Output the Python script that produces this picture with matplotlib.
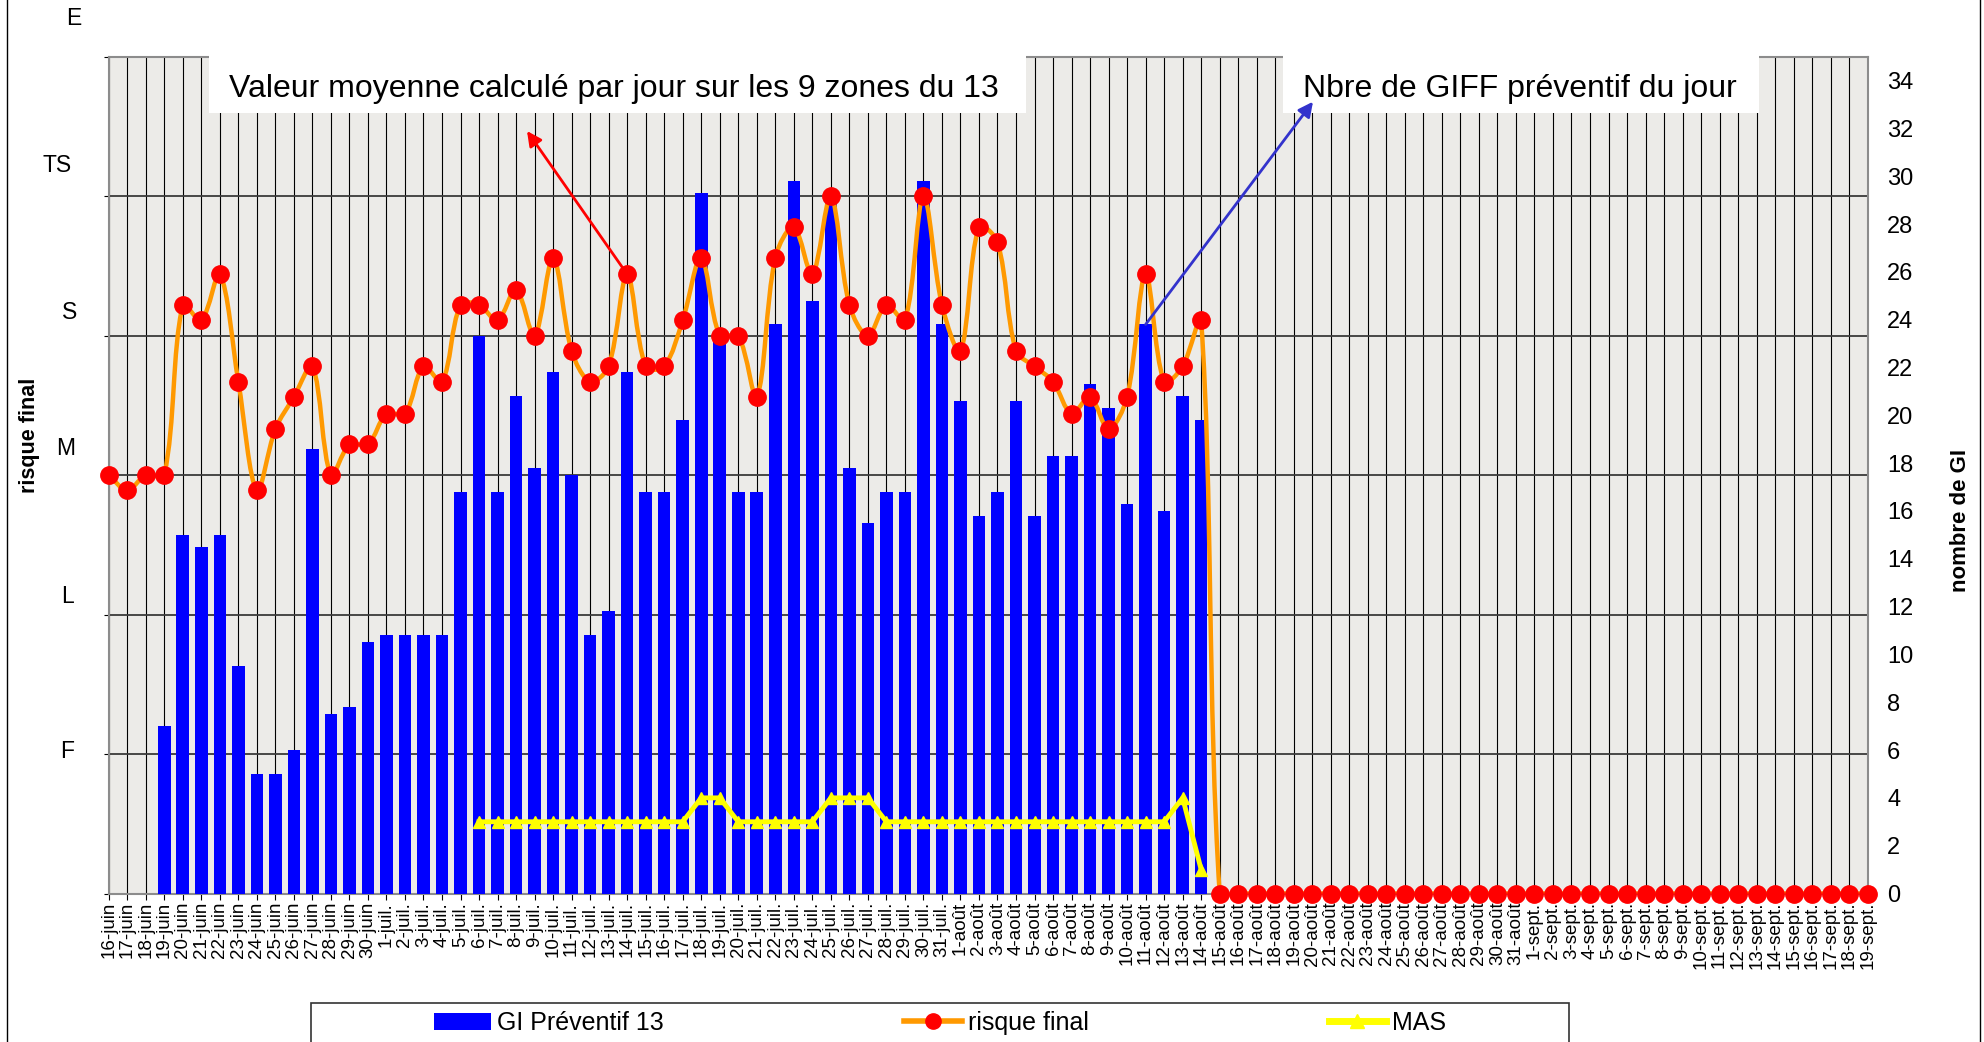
import numpy as np
import matplotlib
matplotlib.use("Agg")
import matplotlib.pyplot as plt
from matplotlib.path import Path
from matplotlib.patches import PathPatch, Patch, Rectangle, ConnectionPatch
from matplotlib.lines import Line2D

plt.rcParams['font.family'] = ['Liberation Sans', 'DejaVu Sans']

# jours du 16-juin au 19-sept.
dates = ([f"{d}-juin" for d in range(16, 31)]
         + [f"{d}-juil." for d in range(1, 32)]
         + [f"{d}-août" for d in range(1, 32)]
         + [f"{d}-sept." for d in range(1, 20)])

# nombre de GI préventif (axe de droite), du 16-juin au 14-août
gi = [0, 0, 0, 7, 15, 14.5, 15, 9.5, 5, 5, 6, 18.6, 7.5, 7.8, 10.5,
      10.8, 10.8, 10.8, 10.8, 16.8, 23.3, 16.8, 20.8, 17.8, 21.8, 17.5, 10.8, 11.8, 21.8, 16.8,
      16.8, 19.8, 29.3, 23.3, 16.8, 16.8, 23.8, 29.8, 24.8, 29.3, 17.8, 15.5, 16.8, 16.8, 29.8, 23.8,
      20.6, 15.8, 16.8, 20.6, 15.8, 18.3, 18.3, 21.3, 20.3, 16.3, 23.8, 16.0, 20.8, 19.8]

# risque final moyen (axe de gauche, 0..6)
risque = [3.00, 2.89, 3.00, 3.00, 4.22, 4.11, 4.44, 3.67, 2.89, 3.33, 3.56, 3.78, 3.00, 3.22, 3.22,
          3.44, 3.44, 3.78, 3.67, 4.22, 4.22, 4.11, 4.33, 4.00, 4.56, 3.89, 3.67, 3.78, 4.44, 3.78,
          3.78, 4.11, 4.56, 4.00, 4.00, 3.56, 4.56, 4.78, 4.44, 5.00, 4.22, 4.00, 4.22, 4.11, 5.00, 4.22,
          3.89, 4.78, 4.67, 3.89, 3.78, 3.67, 3.44, 3.56, 3.33, 3.56, 4.44, 3.67, 3.78, 4.11,
          0, 0, 0, 0, 0, 0, 0, 0, 0, 0, 0, 0, 0, 0, 0, 0, 0, 0,
          0, 0, 0, 0, 0, 0, 0, 0, 0, 0, 0, 0, 0, 0, 0, 0, 0, 0]

# MAS (axe de droite), du 6-juil. au 14-août
mas = [3, 3, 3, 3, 3, 3, 3, 3, 3, 3, 3, 3, 4, 4, 3, 3, 3, 3, 3, 4,
       4, 4, 3, 3, 3, 3, 3, 3, 3, 3, 3, 3, 3, 3, 3, 3, 3, 3, 4, 1]
mas_start = dates.index("6-juil.")

risk_levels = ['F', 'L', 'M', 'S', 'TS', 'E']


def smooth_path(axe, xs, ys):
    # courbe lissée façon Excel : Bézier calculée en pixels, tangentes pondérées
    pts = axe.transData.transform(np.column_stack([xs, ys]).astype(float))
    n = len(pts)
    verts = [pts[0]]
    codes = [Path.MOVETO]
    for k in range(n - 1):
        p0 = pts[max(k - 1, 0)]
        p1 = pts[k]
        p2 = pts[k + 1]
        p3 = pts[min(k + 2, n - 1)]
        d01 = np.hypot(*(p1 - p0))
        d12 = np.hypot(*(p2 - p1))
        d23 = np.hypot(*(p3 - p2))
        f1 = d12 / (d01 + d12) / 3 if d01 + d12 > 0 else 0
        f2 = d12 / (d12 + d23) / 3 if d12 + d23 > 0 else 0
        verts += [p1 + (p2 - p0) * f1, p2 - (p3 - p1) * f2, p2]
        codes += [Path.CURVE4] * 3
    verts = axe.transData.inverted().transform(np.array(verts))
    return Path(verts, codes)


W, H = 1984, 1042
fig = plt.figure(figsize=(W / 100, H / 100), dpi=100)
x = np.arange(len(dates))

# axe de base : fond, grille, échelle risque
ax = fig.add_axes([0.0548, 0.1425, 0.8866, 0.8031])
ax.set_facecolor('#ecebe8')
ax.set_xlim(0, len(dates) - 1)
ax.set_ylim(0, 6)
ax.set_yticks(range(7))
ax.tick_params(axis='y', left=False, labelleft=False)
ax.set_xticks(x)
ax.set_xticklabels(dates, rotation=90, fontsize=13.5)
ax.tick_params(axis='x', length=4, pad=2, color='black')
ax.grid(axis='x', color='black', lw=0.8)
ax.grid(axis='y', color='#3a3a3a', lw=1.3)
ax.set_axisbelow(True)
for s in ax.spines.values():
    s.set_color('#8c8c8c')
    s.set_linewidth(1.5)

# barres + MAS sur l'axe de droite
ax2 = ax.twinx()
ax2.bar(x[:len(gi)], gi, width=0.68, color='#0000ff', zorder=2)
ax2.plot(x[mas_start:mas_start + len(mas)], mas, color='#ffff00', lw=3.5,
         marker='^', ms=9, zorder=3)
ax2.set_ylim(0, 35)
ax2.set_yticks(range(0, 35, 2))
ax2.tick_params(axis='y', length=0, pad=14, labelsize=17)
for s in ax2.spines.values():
    s.set_visible(False)

# risque final au-dessus
ax3 = ax.twinx()
ax3.set_ylim(0, 6)
ax3.set_xlim(0, len(dates) - 1)
ax3.set_axis_off()
ax3.add_patch(PathPatch(smooth_path(ax3, x, risque), fill=False, edgecolor='#ff9900', lw=3.2,
                        zorder=3))
ax3.plot(x, risque, 'o', color='#ff0000', ms=12.5, zorder=4, clip_on=False)

# étiquettes de risque à gauche
for lab, (px, py) in zip(risk_levels, [(67.5, 751.7), (67.5, 596.7), (66, 448.3),
                                       (70, 312.3), (57, 165), (74, 18.3)]):
    fig.text(px / W, 1 - py / H, lab, fontsize=16.5, ha='center', va='center')

fig.text(29 / W, 1 - 435 / H, 'risque final', rotation=90, fontsize=15.5,
         fontweight='bold', ha='center', va='center')
fig.text(1960 / W, 1 - 521 / H, 'nombre de GI', rotation=90, fontsize=16,
         fontweight='bold', ha='center', va='center')

# cadres de texte
for (x0, x1) in [(209, 1026), (1283, 1758.5)]:
    fig.add_artist(Rectangle((x0 / W, 1 - 113 / H), (x1 - x0) / W, 83 / H,
                             transform=fig.transFigure, facecolor='white',
                             edgecolor='none', zorder=1))
fig.text(228.6 / W, 1 - 96.7 / H, 'Valeur moyenne calculé par jour sur les 9 zones du 13',
         fontsize=23, va='baseline', ha='left', zorder=3)
fig.text(1302.7 / W, 1 - 97.3 / H, 'Nbre de GIFF préventif du jour',
         fontsize=23, va='baseline', ha='left', zorder=3)

# flèches
fig.add_artist(ConnectionPatch(xyA=(28, risque[28]), coordsA=ax3.transData,
                               xyB=(527 / W, 1 - 131 / H), coordsB=fig.transFigure,
                               arrowstyle='-|>', color='#ff0000', lw=2, mutation_scale=22,
                               shrinkA=0, shrinkB=0, zorder=5, clip_on=False))
fig.add_artist(ConnectionPatch(xyA=(56, gi[56]), coordsA=ax2.transData,
                               xyB=(1313 / W, 1 - 101.7 / H), coordsB=fig.transFigure,
                               arrowstyle='-|>', color='#3333cc', lw=2, mutation_scale=22,
                               shrinkA=0, shrinkB=0, zorder=5, clip_on=False))

# légende
handles = [Patch(facecolor='#0000ff'),
           Line2D([], [], color='#ff9900', lw=4, marker='o', mfc='#ff0000', mec='#ff0000', ms=11),
           Line2D([], [], color='#ffff00', lw=5, marker='^', ms=10)]
fig.legend(handles, ['GI Préventif 13', 'risque final', 'MAS'], loc='center',
           bbox_to_anchor=(940 / W, 1 - 1023 / H), ncol=3, frameon=False, fontsize=18,
           columnspacing=9.6, handlelength=2.3, handletextpad=0.25)
fig.add_artist(Rectangle((311 / W, -0.05), (1569 - 311) / W, 39 / H + 0.05,
                         transform=fig.transFigure, fill=False, edgecolor='#333333', lw=1.2))

# bords de la zone de graphique
for bx in [6.7, 1980]:
    fig.add_artist(Line2D([bx / W, bx / W], [0, 1], transform=fig.transFigure,
                          color='black', lw=1))

fig.savefig('out.png', dpi=100)
